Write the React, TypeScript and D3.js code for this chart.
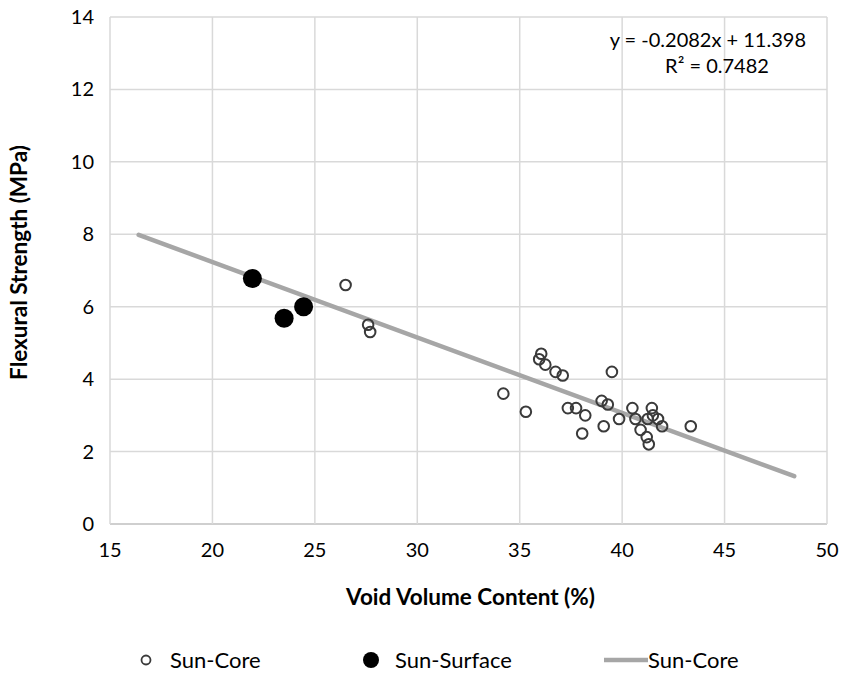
import React from 'react';
import {scaleLinear, range} from 'd3';

// Sun-Core samples (open markers)
const coreVoid = [
  26.5, 27.6, 27.7, 34.2, 35.3, 36.05, 35.95, 36.25, 36.75, 37.1,
  37.35, 37.75, 38.2, 38.05, 39.5, 39.0, 39.3, 39.1, 39.85, 40.5,
  40.65, 40.9, 41.2, 41.3, 41.45, 41.25, 41.5, 41.75, 41.95, 43.35,
];
const coreStrength = [
  6.6, 5.5, 5.3, 3.6, 3.1, 4.7, 4.55, 4.4, 4.2, 4.1,
  3.2, 3.2, 3.0, 2.5, 4.2, 3.4, 3.3, 2.7, 2.9, 3.2,
  2.9, 2.6, 2.4, 2.2, 3.2, 2.9, 3.0, 2.9, 2.7, 2.7,
];

// Sun-Surface samples (filled markers)
const surfaceVoid = [21.95, 23.5, 24.45];
const surfaceStrength = [6.78, 5.68, 6.0];

// trendline
const slope = -0.2082;
const intercept = 11.398;
const trendRange = [16.4, 48.4];

const xTicks = [15, 20, 25, 30, 35, 40, 45, 50];
const yTicks = [0, 2, 4, 6, 8, 10, 12, 14];

const width = 843;
const height = 676;
const margin = {top: 17, right: 16, bottom: 152, left: 110};
const innerWidth = width - margin.left - margin.right;
const innerHeight = height - margin.top - margin.bottom;

const font = 'Lato, "Open Sans", sans-serif';
const gridColor = '#d9d9d9';
const lineColor = '#a6a6a6';

export default function App() {
  const xScale = scaleLinear().domain([15, 50]).range([0, innerWidth]);
  const yScale = scaleLinear().domain([0, 14]).range([innerHeight, 0]);

  const core = range(coreVoid.length).map((i) => ({x: coreVoid[i], y: coreStrength[i]}));
  const surface = range(surfaceVoid.length).map((i) => ({x: surfaceVoid[i], y: surfaceStrength[i]}));

  const legendY = 660;

  return (
    <svg width={width} height={height} style={{position: 'absolute', left: 0, top: 0, background: '#fff', fontFamily: font}}>
      <g transform={`translate(${margin.left}, ${margin.top})`}>
        {yTicks.map((t) => (
          <g key={t} transform={`translate(0, ${yScale(t)})`}>
            <line x1={0} x2={innerWidth} stroke={t === 0 ? '#bfbfbf' : gridColor} strokeWidth={1.5} />
            <text x={-16} dy="0.35em" textAnchor="end" fontSize={20} fill="#000">{t}</text>
          </g>
        ))}
        {xTicks.map((t) => (
          <g key={t} transform={`translate(${xScale(t)}, 0)`}>
            <line y1={0} y2={innerHeight} stroke={gridColor} strokeWidth={1.5} />
            <text y={innerHeight + 26} dy="0.35em" textAnchor="middle" fontSize={20} fill="#000">{t}</text>
          </g>
        ))}

        <line
          x1={xScale(trendRange[0])}
          y1={yScale(slope * trendRange[0] + intercept)}
          x2={xScale(trendRange[1])}
          y2={yScale(slope * trendRange[1] + intercept)}
          stroke={lineColor}
          strokeWidth={4.5}
          strokeLinecap="round"
        />

        {core.map((d, i) => (
          <circle key={`c${i}`} cx={xScale(d.x)} cy={yScale(d.y)} r={5.3} fill="none" stroke="#3a3a3a" strokeWidth={2} />
        ))}
        {surface.map((d, i) => (
          <circle key={`s${i}`} cx={xScale(d.x)} cy={yScale(d.y)} r={9.5} fill="#000" />
        ))}

        <text x={696} y={30} textAnchor="end" fontSize={20} fill="#000">y = -0.2082x + 11.398</text>
        <text x={607} y={56} textAnchor="middle" fontSize={20} fill="#000">R² = 0.7482</text>

        <text x={innerWidth / 2 + 2} y={innerHeight + 81} textAnchor="middle" fontSize={22.5} fontWeight="bold" fill="#000">
          Void Volume Content (%)
        </text>
        <text
          transform={`translate(${-83}, ${innerHeight / 2 - 8}) rotate(-90)`}
          textAnchor="middle"
          fontSize={22.5}
          fontWeight="bold"
          fill="#000"
        >
          Flexural Strength (MPa)
        </text>
      </g>

      <g transform={`translate(0, ${legendY})`}>
        <circle cx={146} cy={0} r={4.5} fill="none" stroke="#3a3a3a" strokeWidth={1.8} />
        <text x={170} dy="0.35em" fontSize={22} fill="#000">Sun-Core</text>
        <circle cx={371} cy={0} r={8} fill="#000" />
        <text x={395} dy="0.35em" fontSize={22} fill="#000">Sun-Surface</text>
        <line x1={604} x2={648} y1={0} y2={0} stroke={lineColor} strokeWidth={4.5} />
        <text x={648} dy="0.35em" fontSize={22} fill="#000">Sun-Core</text>
      </g>
    </svg>
  );
}
